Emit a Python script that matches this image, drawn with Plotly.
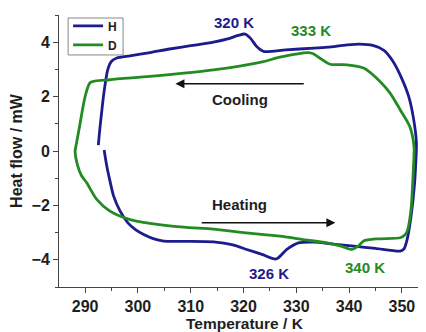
import plotly.graph_objects as go

# H (blue) loop: heating branch (bottom) -> right side -> cooling branch (top)
H_T = [293.6, 294.1, 294.7, 295.4, 296.6, 298.1, 299.6, 301.1, 302.9, 304.9, 308.7, 314.3,
       318.0, 320.6, 323.5, 326.2, 328.2, 330.4, 333.3, 337.0, 340.9, 345.0, 349.7,
       350.4, 351.0, 351.8, 352.4, 352.6, 352.75, 352.2, 351.3, 349.9, 348.3, 346.6, 344.5,
       342.0, 339.6, 336.0, 333.3, 328.0, 323.8, 322.5, 321.3, 320.3, 319.0, 317.0, 314.3,
       310.0, 306.0, 302.3, 298.5, 296.0, 295.0, 294.3, 293.6, 293.0, 292.7, 292.5]
H_Q = [0.04, -0.55, -1.1, -1.66, -2.2, -2.64, -2.9, -3.07, -3.22, -3.31, -3.32, -3.34,
       -3.45, -3.62, -3.8, -3.97, -3.62, -3.38, -3.35, -3.42, -3.5, -3.58, -3.68,
       -3.6, -3.25, -2.3, -1.2, -0.55, 0.3, 1.2, 2.0, 2.7, 3.3, 3.7, 3.88,
       3.93, 3.9, 3.82, 3.78, 3.72, 3.66, 3.84, 4.15, 4.3, 4.25, 4.12, 4.0,
       3.87, 3.75, 3.62, 3.5, 3.42, 3.3, 3.0, 2.2, 1.2, 0.65, 0.22]

# D (green) closed loop
D_T = [288.1, 288.6, 289.3, 290.3, 292.2, 294.7, 298.5, 302.3, 308.7, 314.3, 320.0, 326.9,
       331.0, 335.8, 338.5, 340.5, 341.7, 342.75, 345.3, 349.7, 350.5, 351.0, 351.7, 352.2,
       352.3, 351.5, 349.7, 347.8, 345.9, 342.75, 339.6, 336.4, 334.5, 333.3, 332.3, 326.9,
       323.8, 314.3, 302.3, 294.7, 291.0, 290.0, 289.05, 288.3, 288.1]
D_Q = [0.0, -0.55, -0.9, -1.17, -1.78, -2.21, -2.52, -2.66, -2.8, -2.87, -3.0, -3.13,
       -3.25, -3.38, -3.5, -3.62, -3.5, -3.31, -3.23, -3.19, -3.1, -2.95, -2.2, -0.55,
       0.16, 0.9, 1.51, 2.12, 2.55, 3.05, 3.17, 3.19, 3.41, 3.57, 3.62, 3.45,
       3.29, 2.98, 2.74, 2.62, 2.52, 2.0, 1.02, 0.22, 0.0]

X_TICKS = [290, 300, 310, 320, 330, 340, 350]
Y_TICKS = [-4, -2, 0, 2, 4]

BLUE = "#1c1c8c"
GREEN = "#238b23"
TXT = "#1e1e1e"
FONT = "Liberation Sans"

fig = go.Figure()
fig.add_trace(go.Scatter(x=H_T, y=H_Q, mode="lines", name="H",
                         line=dict(color=BLUE, width=2.8, shape="spline", smoothing=0.7)))
fig.add_trace(go.Scatter(x=D_T, y=D_Q, mode="lines", name="D",
                         line=dict(color=GREEN, width=2.8, shape="spline", smoothing=0.7)))

ann = []
def label(x, y, text, color):
    ann.append(dict(x=x, y=y, xref="x", yref="y", text=text, showarrow=False,
                    font=dict(family=FONT, size=15, color=color, weight="bold")))

label(318.2, 4.72, "320 K", BLUE)
label(332.7, 4.42, "333 K", GREEN)
label(324.8, -4.5, "326 K", BLUE)
label(343.1, -4.3, "340 K", GREEN)
label(319.4, 1.9, "Cooling", TXT)
label(319.2, -1.98, "Heating", TXT)

# arrows
ann.append(dict(x=307.1, y=2.47, ax=331.7, ay=2.47, xref="x", yref="y", axref="x", ayref="y",
                showarrow=True, arrowhead=2, arrowsize=1.2, arrowwidth=1.5, arrowcolor="#111", text=""))
ann.append(dict(x=337.4, y=-2.64, ax=311.8, ay=-2.64, xref="x", yref="y", axref="x", ayref="y",
                showarrow=True, arrowhead=2, arrowsize=1.2, arrowwidth=1.5, arrowcolor="#111", text=""))

# x-axis title
ann.append(dict(x=0.51, y=-0.133, xref="paper", yref="paper", text="Temperature / K",
                showarrow=False, yanchor="middle",
                font=dict(family=FONT, size=15.5, color=TXT, weight="bold")))

# legend frame (tight box like the reference)
shapes = [dict(type="rect", xref="paper", yref="paper", x0=0.025, x1=0.176, y0=0.853, y1=0.989,
               line=dict(color="#888", width=1), fillcolor="rgba(0,0,0,0)", layer="above")]

# page body has an 8px default margin; size the figure so it fits the 426x332 window
fig.update_layout(
    width=418, height=324,
    margin=dict(l=51, r=3, t=7, b=45),
    paper_bgcolor="white", plot_bgcolor="white",
    font=dict(family=FONT, color=TXT),
    showlegend=True,
    legend=dict(x=0.025, y=1.013, xanchor="left", yanchor="top",
                borderwidth=0, bgcolor="rgba(0,0,0,0)",
                font=dict(family=FONT, size=12, color=TXT, weight="bold"),
                tracegroupgap=0, itemwidth=30),
    annotations=ann,
    shapes=shapes,
    xaxis=dict(range=[285.05, 354.0], tickvals=X_TICKS, ticks="outside", ticklen=5,
               tickcolor="#444", showline=True, linecolor="#444", linewidth=1,
               showgrid=False, zeroline=False, automargin=False,
               tickfont=dict(family=FONT, size=16, color=TXT, weight="bold"),
               minor=dict(dtick=5, tick0=285, ticks="outside", ticklen=3, tickcolor="#444", showgrid=False)),
    yaxis=dict(range=[-5, 5], tickvals=Y_TICKS, ticks="outside", ticklen=5,
               tickcolor="#444", showline=True, linecolor="#444", linewidth=1,
               showgrid=False, zeroline=False, automargin=False,
               tickfont=dict(family=FONT, size=16, color=TXT, weight="bold"),
               minor=dict(dtick=1, tick0=-5, ticks="outside", ticklen=3, tickcolor="#444", showgrid=False),
               title=dict(text="Heat flow / mW", standoff=6,
                          font=dict(family=FONT, size=16, color=TXT, weight="bold"))),
)

fig.write_html("out.html")
